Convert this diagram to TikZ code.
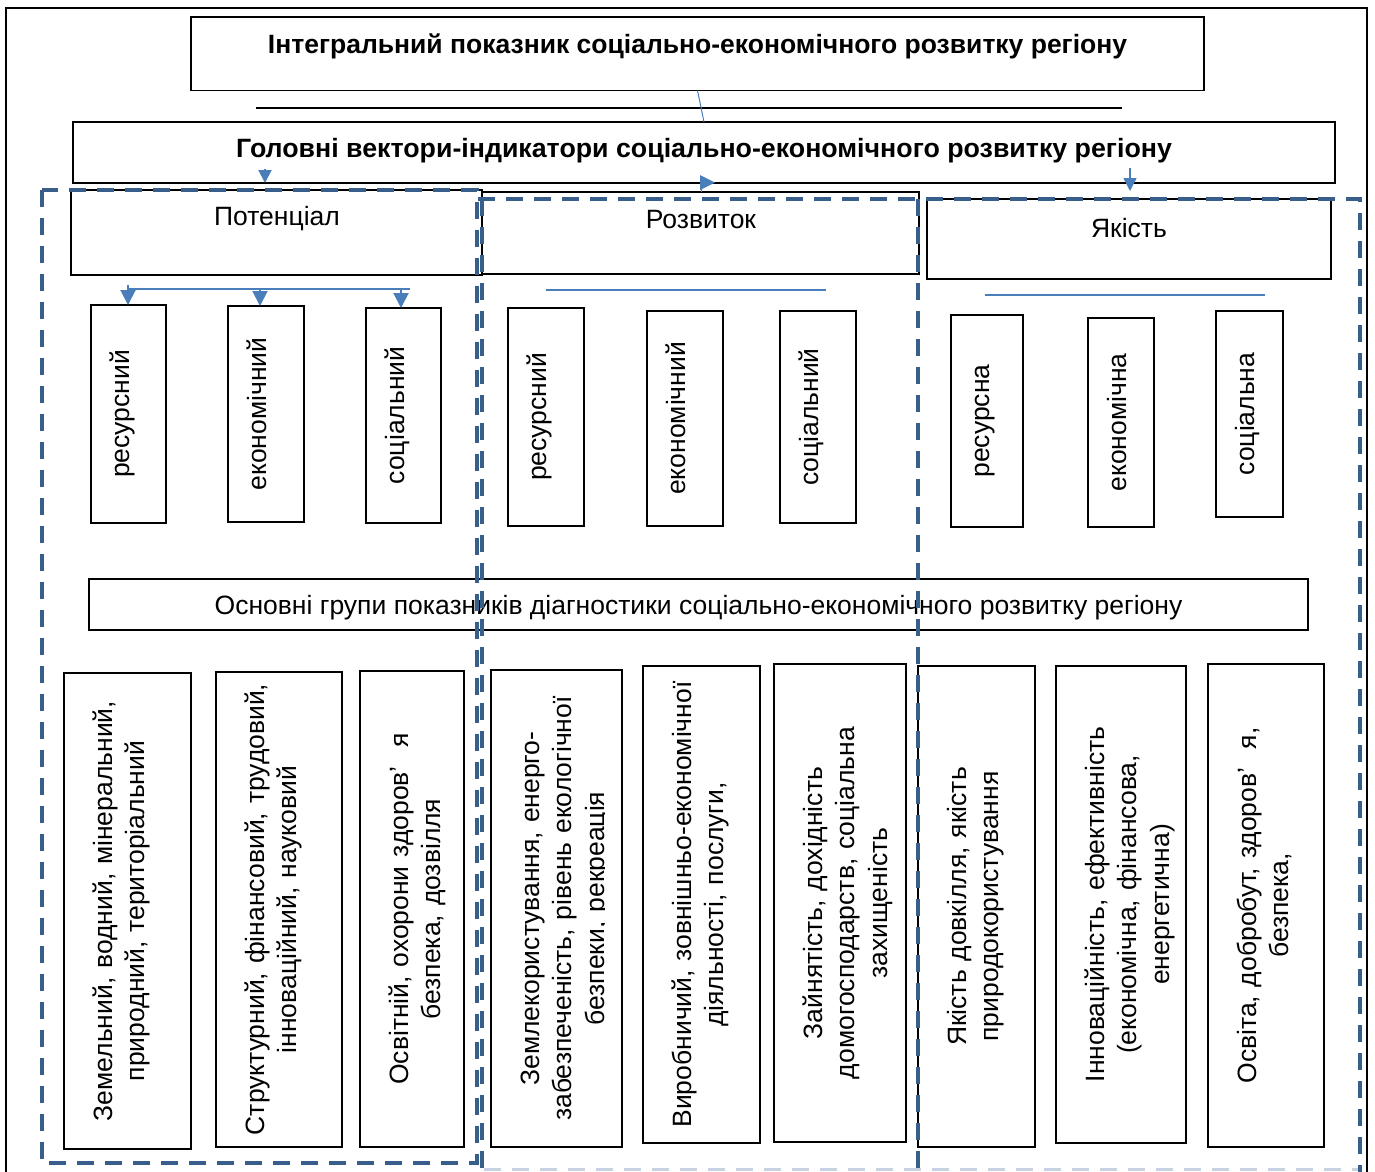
\documentclass[tikz,border=0pt]{standalone}
\usepackage{fontspec}
\setmainfont{Liberation Sans}
\usetikzlibrary{arrows.meta}
\definecolor{dashblue}{RGB}{56,94,140}
\definecolor{arrblue}{RGB}{74,126,187}
\definecolor{lightdash}{RGB}{200,210,226}
\tikzset{
 box/.style={draw=black, line width=1.3pt, inner sep=0pt, outer sep=0pt},
 dashbox/.style={draw=dashblue, line width=4.5pt, dash pattern=on 17pt off 11pt},
 bline/.style={draw=arrblue, line width=2pt},
 barrow/.style={bline, -{Triangle[length=15pt,width=15pt]}},
 htext/.style={inner sep=0pt, anchor=base, font=\fontsize{26.5}{32.5}\selectfont},
 ttext/.style={inner sep=0pt, anchor=base, font=\fontsize{26.5}{32.5}\selectfont\bfseries},
 vtext/.style={inner sep=0pt, anchor=base, rotate=90, font=\fontsize{26.5}{32.5}\selectfont},
 ptext/.style={vtext, align=center, text width=470pt},
}
\newcommand{\bx}[5]{\node[box, minimum width={(#4-#2)*1pt}, minimum height={(#5-#3)*1pt}] (#1) at ({(#2+#4)/2},{(#3+#5)/2}) {};}
\begin{document}
\begin{tikzpicture}[x=1pt,y=-1pt]
\useasboundingbox (0,0) rectangle (1375,1171);
\clip (0,0) rectangle (1375,1171);
% outer frame
\draw[line width=1.6pt] (6,1185) -- (6,8) -- (1367,8) -- (1367,1185);
% main boxes
\bx{top}{191}{17}{1204}{90.5}
\bx{sec}{73}{122}{1335}{183}
\bx{pot}{71}{190}{482}{275}
\bx{roz}{482}{192}{919}{274}
\bx{yak}{927}{199}{1331}{279}
\bx{osn}{89}{579}{1308}{630}
% row 1
\bx{r1}{91}{305}{166}{523}
\bx{r2}{228}{306}{304}{522}
\bx{r3}{366}{308}{441}{523}
\bx{r4}{508}{308}{584}{526}
\bx{r5}{647}{311}{723}{526}
\bx{r6}{780}{311}{856}{523}
\bx{r7}{951}{315}{1023}{527}
\bx{r8}{1088}{318}{1154}{527}
\bx{r9}{1216}{311}{1283}{517}
% row 2
\bx{b1}{64}{673}{191}{1149}
\bx{b2}{216}{672}{342}{1147}
\bx{b3}{360}{671}{464}{1147}
\bx{b4}{491}{670}{622}{1147}
\bx{b5}{643}{666}{760}{1143}
\bx{b6}{774}{664}{906}{1142}
\bx{b7}{918}{666}{1035}{1147}
\bx{b8}{1056}{666}{1186}{1143}
\bx{b9}{1208}{664}{1324}{1147}
% texts
\node[ttext] (ttop) at (697.5,53) {Інтегральний показник соціально-економічного розвитку регіону};
\node[ttext] (tsec) at (704,157) {\scalebox{1.01}[1]{Головні вектори-індикатори соціально-економічного розвитку регіону}};
\node[htext] (tpot) at (277,225) {Потенціал};
\node[htext] (troz) at (701,228) {Розвиток};
\node[htext] (tyak) at (1129,237) {Якість};
\node[htext] (tosn) at (698.5,614) {Основні групи показників діагностики соціально-економічного розвитку регіону};
\node[vtext] (tr1) at ([xshift=38pt]r1.west) {ресурсний};
\node[vtext] (tr2) at ([xshift=38pt]r2.west) {економічний};
\node[vtext] (tr3) at ([xshift=38pt]r3.west) {соціальний};
\node[vtext] (tr4) at ([xshift=38pt]r4.west) {ресурсний};
\node[vtext] (tr5) at ([xshift=38pt]r5.west) {економічний};
\node[vtext] (tr6) at ([xshift=38pt]r6.west) {соціальний};
\node[vtext] (tr7) at ([xshift=38pt]r7.west) {ресурсна};
\node[vtext] (tr8) at ([xshift=38pt]r8.west) {економічна};
\node[vtext] (tr9) at ([xshift=38pt]r9.west) {соціальна};
\node[ptext] (tb1) at ([xshift=48pt]b1.west) {Земельний, водний, мінеральний,\\ природний, територіальний};
\node[ptext] (tb2) at ([xshift=48pt]b2.west) {Структурний, фінансовий, трудовий,\\ інноваційний, науковий};
\node[ptext] (tb3) at ([xshift=48pt]b3.west) {Освітній, охорони здоров’\hspace{0.7em}я\\ безпека, дозвілля};
\begin{scope}
\clip (491,670) rectangle (604.5,1147);
\node[ptext] (tb4) at ([xshift=48pt]b4.west) {Землекористування, енерго-\\ забезпеченість, рівень екологічної\\ безпеки, рекреація};
\end{scope}
\node[ptext] (tb5) at ([xshift=48pt]b5.west) {Виробничий, зовнішньо-економічної\\ діяльності, послуги,};
\node[ptext] (tb6) at ([xshift=48pt]b6.west) {Зайнятість, дохідність\\ домогосподарств, соціальна\\ захищеність};
\node[ptext] (tb7) at ([xshift=48pt]b7.west) {Якість довкілля, якість\\ природокористування};
\node[ptext] (tb8) at ([xshift=48pt]b8.west) {Інноваційність, ефективність\\ (економічна, фінансова,\\ енергетична)};
\node[ptext] (tb9) at ([xshift=48pt]b9.west) {Освіта, добробут, здоров’\hspace{0.7em}я,\\ безпека,};
% black line
\coordinate (bl1) at (256,107.5);
\coordinate (bl2) at (1122,107.5);
\draw[line width=2pt] (bl1) -- (bl2);
% connectors
\draw[draw=arrblue, line width=1pt] (top.south) -- (sec.north);
\draw[barrow, -{Triangle[length=13pt,width=13pt]}] (265,169) -- (sec.south -| 265,0);
\fill[arrblue] (700,175) -- (715,182.5) -- (700,190) -- cycle;
\draw[draw=arrblue, line width=1pt] (701,182) -- (roz.north -| 701,0);
\draw[barrow, line width=1.5pt, -{Triangle[length=13pt,width=13pt]}] (1130,168) -- (1130,191);
\draw[bline] (128,288.5) -- (410,288.5);
\draw[barrow] (128,285) -- (r1.north -| 128,0);
\draw[barrow] (260,288.5) -- (r2.north -| 260,0);
\draw[barrow] (401,288.5) -- (r3.north -| 401,0);
\draw[bline] (546,290) -- (826,290);
\draw[bline] (985,295) -- (1265,295);
% dashed groups
\draw[dashbox] (42,190) rectangle (477,1163);
\draw[dashbox] (478,199) -- (1360,199) -- (1360,1180);
\draw[dashbox] (482,199) -- (482,1180);
\draw[dashbox] (918,199) -- (918,1180);
\draw[draw=lightdash, line width=3pt, dash pattern=on 17pt off 11pt] (484,1169) -- (1358,1169);
\end{tikzpicture}
\end{document}
